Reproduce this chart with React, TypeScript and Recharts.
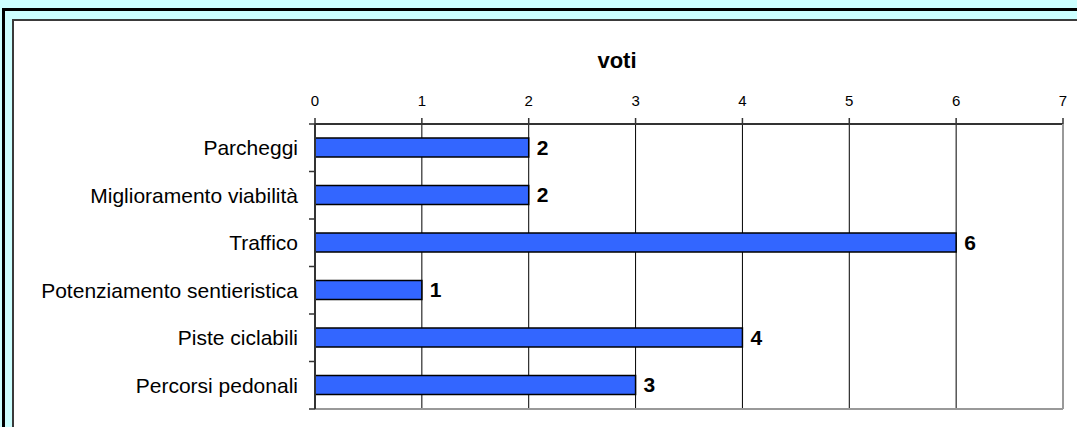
import { BarChart, Bar, XAxis, YAxis, CartesianGrid, LabelList } from 'recharts';

const categories = [
  'Parcheggi',
  'Miglioramento viabilità',
  'Traffico',
  'Potenziamento sentieristica',
  'Piste ciclabili',
  'Percorsi pedonali',
];
const voti = [2, 2, 6, 1, 4, 3];
const xTicks = [0, 1, 2, 3, 4, 5, 6, 7];

const data = categories.map((name, i) => ({ name, voti: voti[i] }));

const FONT = '"Liberation Sans", Arial, sans-serif';
const LABEL_GAP = 17;
const TICK_LEN = 6;

// etichetta di categoria + tacche sui confini tra le righe (stile Excel)
const RowTick = (props: any) => {
  const { x, y, payload, index, height } = props;
  const band = height / categories.length;
  const edge = x + LABEL_GAP;
  const tick = (ty: number) => (
    <line x1={edge - TICK_LEN} x2={edge} y1={ty} y2={ty} stroke="#333" strokeWidth={1.5} />
  );
  return (
    <g>
      <text x={x} y={y} dy="0.355em" textAnchor="end" fill="#000" fontSize={21} fontFamily={FONT}>
        {payload.value}
      </text>
      {tick(y - band / 2)}
      {index === categories.length - 1 && tick(y + band / 2)}
    </g>
  );
};

const App = () => {
  return (
    <div
      style={{
        position: 'fixed',
        left: 0,
        top: 0,
        width: 1077,
        height: 427,
        overflow: 'hidden',
        background: '#CCFFFF',
        fontFamily: FONT,
      }}
    >
      {/* cornice esterna nera */}
      <div
        style={{
          position: 'absolute',
          left: 2,
          top: 8,
          width: 1200,
          height: 600,
          border: '3px solid #000',
        }}
      />
      {/* area bianca del grafico */}
      <div
        style={{
          position: 'absolute',
          left: 12,
          top: 19,
          width: 1200,
          height: 600,
          background: '#fff',
          border: '2px solid #3a3a3a',
        }}
      />
      <div
        style={{
          position: 'absolute',
          left: 517,
          top: 50,
          width: 200,
          textAlign: 'center',
          fontSize: 22,
          lineHeight: '22px',
          fontWeight: 'bold',
          color: '#000',
        }}
      >
        voti
      </div>
      <div style={{ position: 'absolute', left: 0, top: 0 }}>
        <BarChart
          width={1077}
          height={427}
          data={data}
          layout="vertical"
          margin={{ top: 94, right: 13, bottom: 17, left: 20 }}
        >
          <CartesianGrid horizontal={false} stroke="#000" strokeWidth={1} />
          <XAxis
            type="number"
            orientation="top"
            domain={[0, 7]}
            ticks={xTicks}
            interval={0}
            height={30}
            tickSize={6}
            tickMargin={12}
            axisLine={{ stroke: '#333', strokeWidth: 2 }}
            tickLine={{ stroke: '#333', strokeWidth: 1.5 }}
            tick={{ fill: '#000', fontSize: 15, fontFamily: FONT }}
          />
          <XAxis
            xAxisId="edge"
            type="number"
            orientation="bottom"
            domain={[0, 7]}
            height={1}
            tick={false}
            tickLine={false}
            axisLine={{ stroke: '#999', strokeWidth: 2 }}
          />
          <YAxis
            type="category"
            dataKey="name"
            width={295}
            interval={0}
            tickSize={0}
            tickMargin={LABEL_GAP}
            tickLine={false}
            axisLine={{ stroke: '#333', strokeWidth: 2 }}
            tick={<RowTick />}
          />
          <YAxis
            yAxisId="edge"
            type="number"
            orientation="right"
            domain={[0, 1]}
            width={1}
            tick={false}
            tickLine={false}
            axisLine={{ stroke: '#999', strokeWidth: 2 }}
          />
          <Bar
            dataKey="voti"
            fill="#3366FF"
            stroke="#000"
            strokeWidth={1.5}
            barSize={19}
            isAnimationActive={false}
          >
            <LabelList
              dataKey="voti"
              position="right"
              offset={8}
              fill="#000"
              fontSize={21}
              fontWeight="bold"
              fontFamily={FONT}
            />
          </Bar>
        </BarChart>
      </div>
    </div>
  );
};

export default App;
